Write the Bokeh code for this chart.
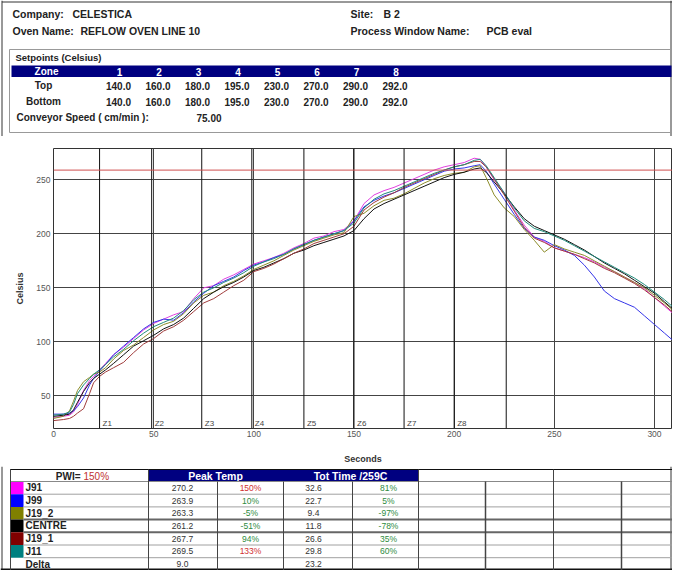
from bokeh.plotting import figure
from bokeh.models import Range1d, Span, FixedTicker
from bokeh.layouts import column
from bokeh.embed import file_html
from bokeh.resources import INLINE
from bokeh.core.properties import value

FONT_NAME = "Liberation Sans"
FONT = value(FONT_NAME)

# ---------------- data ----------------
company = "CELESTICA"
site = "B 2"
oven_name = "REFLOW OVEN LINE 10"
process_window = "PCB eval"
zones = ["1", "2", "3", "4", "5", "6", "7", "8"]
top_setpoints = [140.0, 160.0, 180.0, 195.0, 230.0, 270.0, 290.0, 292.0]
bottom_setpoints = [140.0, 160.0, 180.0, 195.0, 230.0, 270.0, 290.0, 292.0]
conveyor_speed = 75.00

time_s = [0, 5, 8, 10, 12, 15, 18, 20, 23, 26, 30, 35, 40, 45, 50, 55, 60, 65, 70, 75,
          80, 85, 90, 95, 100, 105, 110, 115, 120, 125, 130, 135, 140, 145, 150, 155,
          160, 165, 170, 175, 180, 185, 190, 195, 200, 205, 210, 213, 216, 220, 225,
          230, 235, 240, 245, 250, 255, 260, 265, 270, 275, 280, 285, 290, 295, 300,
          305, 310, 315]
j91 = [30, 31, 32, 35, 42, 55, 64, 68, 74, 80, 88, 95, 103, 111, 117, 121, 125, 128, 140, 150,
       152, 158, 162, 167, 172, 175, 178, 182, 187, 191, 196, 198, 202, 204, 212, 228,
       236, 240, 243, 247, 251, 255, 259, 262, 264, 266, 270, 269, 262, 250, 238,
       222, 208, 197, 193, 187, 184, 181, 178, 174, 169, 165, 160, 155, 149, 141,
       133, 125, 116]
j99 = [33, 33, 34, 36, 40, 48, 60, 66, 73, 79, 88, 96, 104, 112, 118, 121, 120, 127, 137, 145,
       152, 156, 160, 166, 171, 174, 178, 181, 186, 190, 194, 197, 200, 203, 212, 225,
       231, 235, 238, 242, 246, 250, 254, 258, 260, 261, 263, 264, 258, 246, 232,
       218, 205, 197, 194, 189, 185, 180, 171, 160, 147, 140, 136, 132, 124, 116,
       108, 100, 91]
j19_2 = [29, 31, 36, 45, 55, 63, 67, 70, 72, 76, 84, 92, 97, 104, 111, 116, 119, 126, 136, 143,
         146, 152, 156, 161, 167, 171, 175, 180, 185, 189, 193, 196, 199, 201, 216, 219,
         226, 231, 233, 237, 242, 247, 251, 254, 256, 257, 262, 263, 252, 236, 224,
         216, 204, 194, 183, 190, 186, 183, 180, 175, 170, 165, 160, 155, 150, 143,
         136, 128, 120]
centre = [31, 32, 33, 37, 44, 54, 62, 66, 70, 74, 80, 88, 96, 101, 106, 112, 116, 122, 131, 140,
          146, 151, 155, 160, 166, 169, 173, 177, 182, 185, 189, 192, 195, 198, 203, 214,
          223, 228, 232, 236, 240, 244, 248, 252, 255, 257, 260, 261, 257, 248, 237,
          225, 214, 207, 203, 199, 195, 190, 185, 179, 173, 168, 163, 157, 151, 145,
          137, 129, 121]
j19_1 = [27, 28, 29, 31, 34, 38, 52, 62, 68, 72, 76, 81, 90, 98, 103, 110, 114, 120, 128, 136,
         140, 146, 152, 157, 165, 168, 172, 177, 182, 186, 191, 194, 197, 200, 207, 222,
         229, 234, 238, 243, 247, 251, 255, 259, 262, 264, 267, 267, 262, 251, 236,
         221, 206, 196, 192, 187, 184, 181, 177, 173, 168, 164, 159, 154, 148, 141,
         134, 126, 117]
j11 = [32, 33, 35, 42, 52, 60, 66, 70, 74, 79, 86, 93, 101, 108, 114, 118, 122, 129, 139, 146,
       150, 155, 159, 164, 170, 174, 177, 181, 186, 190, 194, 197, 200, 203, 210, 224,
       232, 237, 240, 244, 248, 252, 256, 259, 262, 264, 268, 269, 263, 252, 238,
       224, 212, 205, 202, 198, 194, 189, 184, 179, 174, 169, 164, 159, 153, 146,
       139, 131, 123]

series_names = ["J91", "J99", "J19_2", "CENTRE", "J19_1", "J11"]
series_values = [j91, j99, j19_2, centre, j19_1, j11]
peak_temp = [270.2, 263.9, 263.3, 261.2, 267.7, 269.5]
peak_pwi = [150, 10, -5, -51, 94, 133]
tot_time = [32.6, 22.7, 9.4, 11.8, 26.6, 29.8]
tot_pwi = [81, 5, -97, -78, 35, 60]
delta_peak = 9.0
delta_time = 23.2
pwi_total = 150
threshold_c = 259
zone_edges_s = [23, 49, 74, 99, 125, 150, 175, 200, 226]
zone_labels = ["Z1", "Z2", "Z3", "Z4", "Z5", "Z6", "Z7", "Z8"]
x_ticks = [0, 50, 100, 150, 200, 250, 300]
y_ticks = [50, 100, 150, 200, 250]

# ---------------- styles ----------------
line_colors = ["#e040e0", "#3535e8", "#8c8c2a", "#111111", "#a03c3c", "#1f8a7a"]
swatch_colors = ["#ff00ff", "#0000ff", "#808000", "#000000", "#800000", "#008080"]
NAVY = "#000080"
TXT = "#222222"
W = 672
FRAME = "#333333"


def pixfig(y0, y1):
    f = figure(width=W, height=y1 - y0, x_range=Range1d(0, W), y_range=Range1d(y1, y0),
               output_backend="svg", toolbar_location=None, min_border=0,
               min_border_left=0, min_border_right=0, min_border_top=0, min_border_bottom=0,
               x_axis_type=None, y_axis_type=None)
    f.grid.visible = False
    f.outline_line_color = None
    f.background_fill_color = "white"
    f.border_fill_color = "white"
    f.segment(x0=[1.5, W - 1.5], y0=[y0, y0], x1=[1.5, W - 1.5], y1=[y1, y1],
              line_color=FRAME, line_width=1)
    return f


def txt(f, x, y, t, size="10px", bold=True, color=TXT, align="left"):
    f.text(x=x, y=y, text=t, text_font=FONT, text_font_size=size,
           text_font_style="bold" if bold else "normal", text_color=color,
           text_align=align, text_baseline="middle")


# ---------------- header (picture coords 0..136) ----------------
h = pixfig(0, 136)
h.segment(x0=1.5, y0=1.5, x1=W, y1=1.5, line_color=FRAME, line_width=1)
txt(h, [12, 12], [13, 30], ["Company:", "Oven Name:"], size="10.5px")
txt(h, [72, 80], [13, 30], [company, oven_name], size="10.5px")
txt(h, [350, 350], [13, 30], ["Site:", "Process Window Name:"], size="10.5px")
txt(h, [383, 486], [13, 30], [site, process_window], size="10.5px")
h.quad(left=9, right=W - 1, top=49, bottom=132, fill_color=None, line_color="#999999")
txt(h, [15], [57], ["Setpoints (Celsius)"], size="9.5px")
h.quad(left=11, right=W - 1, top=65, bottom=76.5, fill_color=NAVY, line_color=None)
col_x = [118, 157.5, 197, 236.5, 276, 315.5, 355, 394.5]
txt(h, [46], [71], ["Zone"], color="white", align="center")
txt(h, [c + 1 for c in col_x], [71] * 8, zones, color="white", align="center")
txt(h, [43, 43], [85, 101], ["Top", "Bottom"], align="center")
txt(h, col_x, [85] * 8, [f"{v:.1f}" for v in top_setpoints], align="center")
txt(h, col_x, [101] * 8, [f"{v:.1f}" for v in bottom_setpoints], align="center")
txt(h, [16], [117], ["Conveyor Speed ( cm/min ):"])
txt(h, [196], [117], [f"{conveyor_speed:.2f}"])

# ---------------- chart (picture coords 136..466) ----------------
p = figure(width=W, height=330, x_range=Range1d(0, 309), y_range=Range1d(19.7, 279),
           output_backend="svg", toolbar_location=None,
           min_border_left=53, min_border_right=0, min_border_top=12, min_border_bottom=38)
p.background_fill_color = "white"
p.border_fill_color = "white"
p.outline_line_color = FRAME
p.xgrid.ticker = FixedTicker(ticks=x_ticks)
p.ygrid.ticker = FixedTicker(ticks=y_ticks)
p.grid.grid_line_color = "#444444"
p.grid.grid_line_alpha = 1.0
p.xaxis.ticker = FixedTicker(ticks=x_ticks)
p.yaxis.ticker = FixedTicker(ticks=y_ticks)
for ax in (p.xaxis[0], p.yaxis[0]):
    ax.axis_line_color = None
    ax.major_tick_line_color = None
    ax.minor_tick_line_color = None
    ax.major_tick_out = 0
    ax.major_tick_in = 0
    ax.minor_tick_out = 0
    ax.minor_tick_in = 0
    ax.major_label_text_font = FONT_NAME
    ax.major_label_text_font_size = "8.5px"
    ax.major_label_text_color = "#555555"
    ax.axis_label_text_font = FONT_NAME
    ax.axis_label_text_font_size = "9px"
    ax.axis_label_text_font_style = "bold"
    ax.axis_label_text_color = "#333333"
p.yaxis.axis_label = "Celsius"
p.xaxis.axis_label = "Seconds"
p.yaxis.major_label_standoff = 3
p.yaxis.axis_label_standoff = 8
p.xaxis.major_label_standoff = 2
p.xaxis.axis_label_standoff = 14

for e in zone_edges_s:
    p.add_layout(Span(location=e, dimension="height", line_color="#111111", line_width=1))
p.text(x=[e + 1.5 for e in zone_edges_s[:8]], y=[20.5] * 8, text=zone_labels,
       text_font=FONT, text_font_size="8px", text_color="#444444", text_baseline="bottom")
p.add_layout(Span(location=threshold_c, dimension="width", line_color="#d05050", line_width=1))
for ys, c in zip(series_values, line_colors):
    p.line(time_s, ys, line_color=c, line_width=1)

# ---------------- table (picture coords 466..570) ----------------
t = pixfig(466, 570)
top, hdr, rh = 469, 481, 12.7
rows_y = [hdr + rh * (i + 0.5) for i in range(7)]
t.quad(left=148, right=418, top=top, bottom=hdr, fill_color=NAVY, line_color=None)
t.quad(left=10, right=148, top=top, bottom=hdr, fill_color=None, line_color="#222222")
txt(t, [215, 350], [475] * 2, ["Peak Temp", "Tot Time /259C"], size="10.5px", color="white", align="center")
txt(t, [80], [475.5], ["PWI="], align="right")
txt(t, [83], [475.5], [f"{pwi_total}%"], bold=False, color="#c03030")
for i, c in enumerate(swatch_colors):
    t.quad(left=10, right=23, top=hdr + rh * i, bottom=hdr + rh * (i + 1), fill_color=c, line_color=None)
for i in range(1, 7):
    dark = i in (3, 4)
    t.segment(x0=23, y0=hdr + rh * i, x1=W, y1=hdr + rh * i,
              line_color="#666666" if dark else "#a0a0a0", line_width=2 if dark else 1)
t.segment(x0=10, y0=top, x1=W, y1=top, line_color="#111111", line_width=1)
t.segment(x0=10, y0=hdr, x1=W, y1=hdr, line_color="#888888", line_width=1)
t.segment(x0=0, y0=569, x1=W, y1=569, line_color="#111111", line_width=2)
for vx in [10, 148, 418, 553]:
    t.segment(x0=vx, y0=top, x1=vx, y1=570, line_color="#444444", line_width=1)
for vx in [217, 283, 352, 485, 621]:
    t.segment(x0=vx, y0=hdr, x1=vx, y1=570, line_color="#444444", line_width=1.5 if vx in (485, 621) else 1)
txt(t, [25] * 7, rows_y, series_names + ["Delta"], size="10px")
txt(t, [182] * 6, rows_y[:6], [f"{v:.1f}" for v in peak_temp], size="8.5px", bold=False, color="#333333", align="center")
txt(t, [250] * 6, rows_y[:6], [f"{v}%" for v in peak_pwi], size="8.5px", bold=False,
    color=["#d03030" if abs(v) > 100 else "#2e8b3e" for v in peak_pwi], align="center")
txt(t, [313] * 6, rows_y[:6], [f"{v:.1f}" for v in tot_time], size="8.5px", bold=False, color="#333333", align="center")
txt(t, [388] * 6, rows_y[:6], [f"{v}%" for v in tot_pwi], size="8.5px", bold=False,
    color=["#d03030" if abs(v) > 100 else "#2e8b3e" for v in tot_pwi], align="center")
txt(t, [182, 313], [rows_y[6]] * 2, [f"{delta_peak:.1f}", f"{delta_time:.1f}"], size="8.5px", bold=False, color="#333333", align="center")

layout = column(column(h), p, column(t), spacing=0)
open("out.html", "w").write(file_html(layout, INLINE))
